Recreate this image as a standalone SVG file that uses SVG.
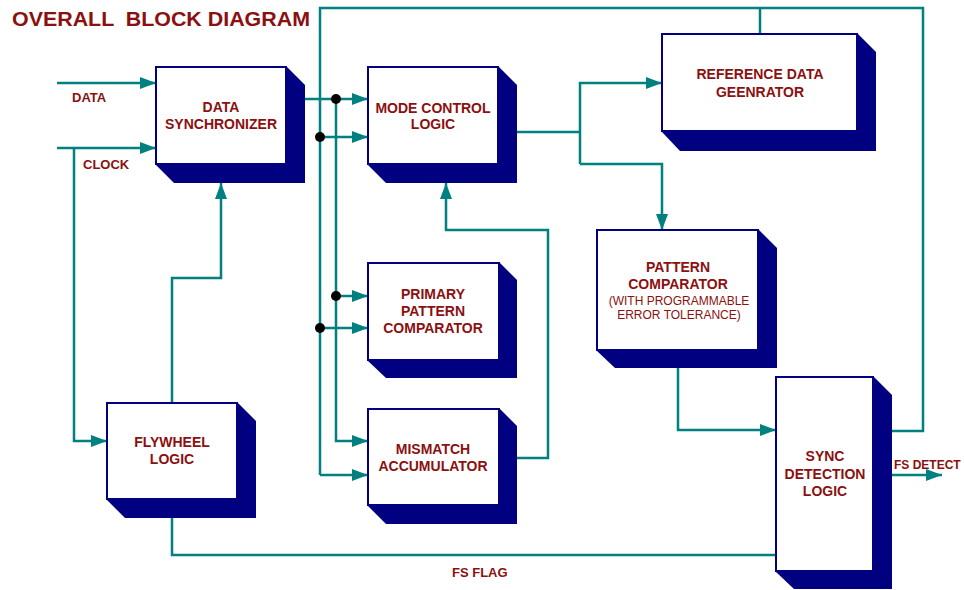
<svg xmlns="http://www.w3.org/2000/svg" width="964" height="590" viewBox="0 0 964 590">
  <style>
    .shadow { fill: #000080; }
    .face { fill: #ffffff; stroke: #000080; stroke-width: 2; }
    .lbl { font-family: "Liberation Sans", Arial, sans-serif; font-weight: bold; font-size: 14px; fill: #8b1010; text-anchor: middle; }
    .sub { font-family: "Liberation Sans", Arial, sans-serif; font-size: 12px; fill: #8b1010; text-anchor: middle; }
    .sig { font-family: "Liberation Sans", Arial, sans-serif; font-weight: bold; font-size: 13px; fill: #8b1010; }
    .title { font-family: "Liberation Sans", Arial, sans-serif; font-weight: bold; font-size: 20px; fill: #8b1010; }
    .wire { fill: none; stroke: #008080; stroke-width: 2.5; }
    .dot { fill: #000000; }
  </style>
  <defs>
    <marker id="arrow" viewBox="0 0 16 12" refX="16" refY="6" markerWidth="16" markerHeight="12" markerUnits="userSpaceOnUse" orient="auto">
      <path d="M0,0 L16,6 L0,12 Z" fill="#008080"/>
    </marker>
  </defs>

  <text class="title" x="12" y="26" xml:space="preserve" textLength="298" lengthAdjust="spacingAndGlyphs">OVERALL  BLOCK DIAGRAM</text>

  <!-- connectors -->
  <g id="connectors">
    <!-- external inputs -->
    <path class="wire" d="M57,83 H156" marker-end="url(#arrow)"/>
    <path class="wire" d="M57,148 H156" marker-end="url(#arrow)"/>
    <path class="wire" d="M74,148 V441 H107" marker-end="url(#arrow)"/>
    <!-- flywheel to synchronizer -->
    <path class="wire" d="M172,403 V278 H221 V183" marker-end="url(#arrow)"/>
    <!-- FS flag feedback -->
    <path class="wire" d="M776,555 H172 V500" marker-end="url(#arrow)"/>
    <!-- synchronizer data output bus -->
    <path class="wire" d="M305,99 H368" marker-end="url(#arrow)"/>
    <path class="wire" d="M336,99 V441 H368" marker-end="url(#arrow)"/>
    <path class="wire" d="M336,296 H368" marker-end="url(#arrow)"/>
    <!-- sync detect feedback bus -->
    <path class="wire" d="M320,475 V8 H923 V431 H875" marker-end="url(#arrow)"/>
    <path class="wire" d="M760,8 V34"/>
    <path class="wire" d="M320,137 H368" marker-end="url(#arrow)"/>
    <path class="wire" d="M320,328 H368" marker-end="url(#arrow)"/>
    <path class="wire" d="M320,475 H368" marker-end="url(#arrow)"/>
    <!-- mode control outputs -->
    <path class="wire" d="M514,132 H580"/>
    <path class="wire" d="M580,164 V83 H662" marker-end="url(#arrow)"/>
    <path class="wire" d="M580,164 H662 V230" marker-end="url(#arrow)"/>
    <!-- mismatch accumulator to mode control -->
    <path class="wire" d="M497,458 H548 V230 H446 V183" marker-end="url(#arrow)"/>
    <!-- pattern comparator to sync detection -->
    <path class="wire" d="M678,350 V430 H776" marker-end="url(#arrow)"/>
    <!-- FS detect output -->
    <path class="wire" d="M873,475 H942" marker-end="url(#arrow)"/>
    <!-- junctions -->
    <circle class="dot" cx="336" cy="99" r="5"/>
    <circle class="dot" cx="320" cy="137" r="5"/>
    <circle class="dot" cx="336" cy="296" r="5"/>
    <circle class="dot" cx="320" cy="328" r="5"/>
  </g>

  <text class="sig" x="72" y="102">DATA</text>
  <text class="sig" x="83" y="169">CLOCK</text>
  <text class="sig" x="894" y="469" style="font-size:12px">FS DETECT</text>
  <text class="sig" x="452" y="577">FS FLAG</text>

  <g id="data-synchronizer">
    <polygon class="shadow" points="156,67 287,67 305,85 305,183 174,183 156,165"/>
    <rect class="face" x="156" y="67" width="130" height="97"/>
    <text class="lbl" x="221" y="112">DATA</text>
    <text class="lbl" x="221" y="129">SYNCHRONIZER</text>
  </g>

  <g id="mode-control-logic">
    <polygon class="shadow" points="368,67 499,67 517,85 517,183 386,183 368,165"/>
    <rect class="face" x="368" y="67" width="130" height="97"/>
    <text class="lbl" x="433" y="113">MODE CONTROL</text>
    <text class="lbl" x="433" y="129">LOGIC</text>
  </g>

  <g id="reference-data-generator">
    <polygon class="shadow" points="662,34 858,34 876,52 876,151 680,151 662,132"/>
    <rect class="face" x="662" y="34" width="195" height="97"/>
    <text class="lbl" x="760" y="79">REFERENCE DATA</text>
    <text class="lbl" x="760" y="97">GEENRATOR</text>
  </g>

  <g id="primary-pattern-comparator">
    <polygon class="shadow" points="368,263 500,263 517,280 517,378 386,378 368,361"/>
    <rect class="face" x="368" y="263" width="131" height="97"/>
    <text class="lbl" x="433" y="299">PRIMARY</text>
    <text class="lbl" x="433" y="316">PATTERN</text>
    <text class="lbl" x="433" y="333">COMPARATOR</text>
  </g>

  <g id="mismatch-accumulator">
    <polygon class="shadow" points="368,409 500,409 517,426 517,524 386,524 368,506"/>
    <rect class="face" x="368" y="409" width="131" height="96"/>
    <text class="lbl" x="433" y="454">MISMATCH</text>
    <text class="lbl" x="433" y="471">ACCUMULATOR</text>
  </g>

  <g id="pattern-comparator">
    <polygon class="shadow" points="597,230 759,230 777,248 777,368 615,368 597,351"/>
    <rect class="face" x="597" y="230" width="161" height="120"/>
    <text class="lbl" x="678" y="272">PATTERN</text>
    <text class="lbl" x="678" y="289">COMPARATOR</text>
    <text class="sub" x="679" y="305">(WITH PROGRAMMABLE</text>
    <text class="sub" x="679" y="319">ERROR TOLERANCE)</text>
  </g>

  <g id="sync-detection-logic">
    <polygon class="shadow" points="776,377 874,377 892,395 892,589 794,589 776,572"/>
    <rect class="face" x="776" y="377" width="97" height="194"/>
    <text class="lbl" x="825" y="461">SYNC</text>
    <text class="lbl" x="825" y="479">DETECTION</text>
    <text class="lbl" x="825" y="496">LOGIC</text>
  </g>

  <g id="flywheel-logic">
    <polygon class="shadow" points="107,403 238,403 256,421 256,518 125,518 107,500"/>
    <rect class="face" x="107" y="403" width="130" height="96"/>
    <text class="lbl" x="172" y="447">FLYWHEEL</text>
    <text class="lbl" x="172" y="464">LOGIC</text>
  </g>
</svg>
